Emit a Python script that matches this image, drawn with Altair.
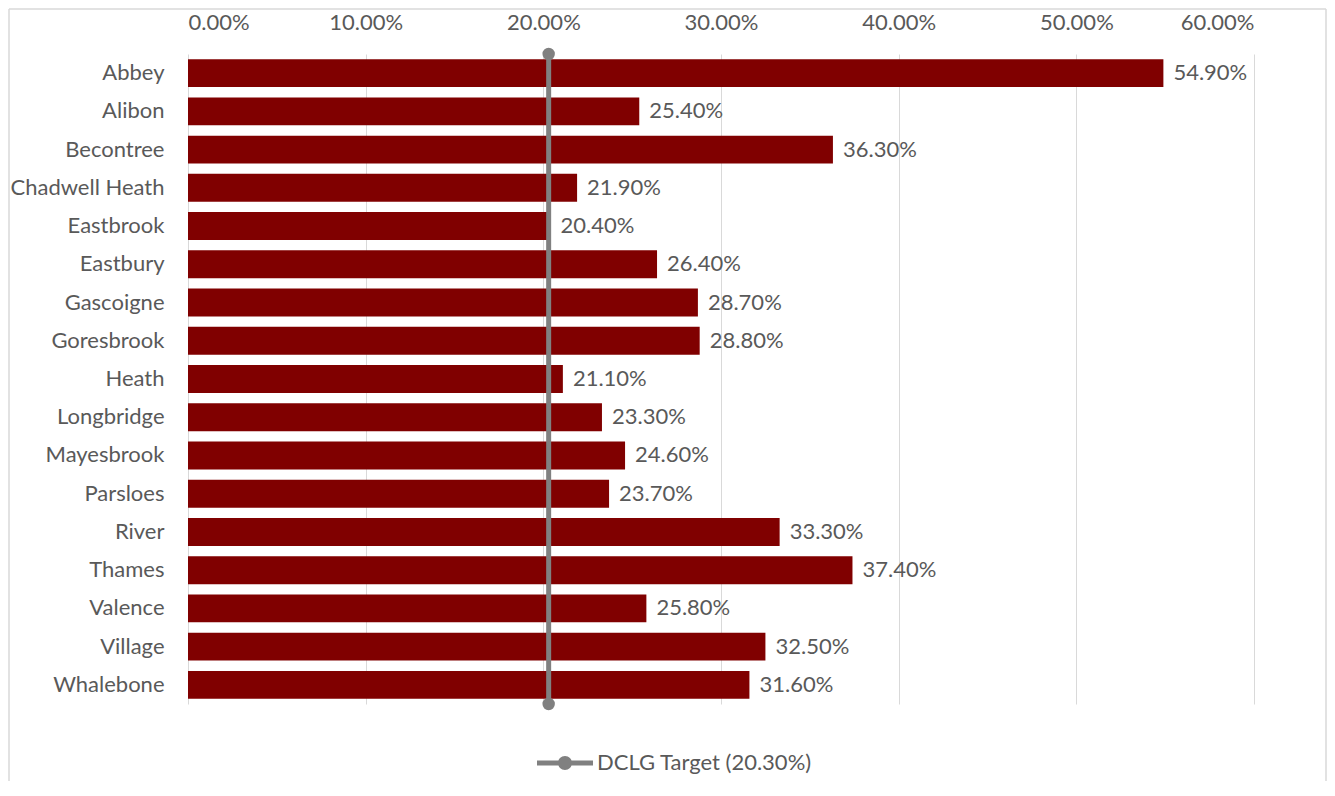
import altair as alt
import pandas as pd

wards = ["Abbey", "Alibon", "Becontree", "Chadwell Heath", "Eastbrook", "Eastbury",
         "Gascoigne", "Goresbrook", "Heath", "Longbridge", "Mayesbrook", "Parsloes",
         "River", "Thames", "Valence", "Village", "Whalebone"]
rates = [54.9, 25.4, 36.3, 21.9, 20.4, 26.4, 28.7, 28.8, 21.1, 23.3, 24.6, 23.7,
         33.3, 37.4, 25.8, 32.5, 31.6]
target_name = "DCLG Target (20.30%)"
target_value = 20.3
x_ticks = [0, 10, 20, 30, 40, 50, 60]

FONT = "Lato"
TXT = "#595959"
GRID = "#d9d9d9"
W, H = 1066, 650

df = pd.DataFrame({"ward": wards, "frac": [r / 100 for r in rates]})
tdf = pd.DataFrame({"frac": [target_value / 100, target_value / 100],
                    "pos": [0, 1],
                    "series": [target_name, target_name]})
one = pd.DataFrame({"k": [0]})

xscale = alt.Scale(domain=[0, 0.6], nice=False)
yscale = alt.Scale(paddingInner=0.27, paddingOuter=0.135)
xaxis = alt.Axis(orient="top", values=[t / 100 for t in x_ticks], format=".2%",
                 grid=True, gridColor=GRID, gridWidth=1, ticks=False, domain=False,
                 labelPadding=20, title=None, labelFontSize=22, labelFont=FONT,
                 labelColor=TXT)
x_enc = alt.X("frac:Q", scale=xscale, axis=xaxis)
y_enc = alt.Y("ward:N", sort=wards, scale=yscale,
              axis=alt.Axis(title=None, ticks=False, domain=False, labelPadding=24,
                            labelFontSize=22, labelFont=FONT, labelColor=TXT))

bars = alt.Chart(df).mark_bar(color="#800000").encode(x=x_enc, y=y_enc)

labels = alt.Chart(df).mark_text(align="left", baseline="middle", dx=10, fontSize=22,
                                 font=FONT, color=TXT).encode(
    x=alt.X("frac:Q", scale=xscale, axis=xaxis),
    y=alt.Y("ward:N", sort=wards, scale=yscale, axis=None),
    text=alt.Text("frac:Q", format=".2%"))

ypos = alt.Y("pos:Q", scale=alt.Scale(domain=[0, 1], nice=False), axis=None)
tline = alt.Chart(tdf).mark_line(color="#808080", strokeWidth=5).encode(
    x=alt.X("frac:Q", scale=xscale, axis=xaxis), y=ypos)

legend_path = ("M-1,-0.09L1,-0.09L1,0.09L-1,0.09Z "
               "M0.25,0A0.25,0.25,0,1,1,-0.25,0A0.25,0.25,0,1,1,0.25,0Z")
tpts = alt.Chart(tdf).mark_point(filled=True, size=154, opacity=1, shape="circle").encode(
    x=alt.X("frac:Q", scale=xscale, axis=xaxis), y=ypos,
    color=alt.Color("series:N", scale=alt.Scale(range=["#808080"]),
                    legend=alt.Legend(title=None, orient="none", legendX=349, legendY=681,
                                      symbolType=legend_path, symbolSize=3136,
                                      symbolStrokeWidth=0, labelFontSize=22, labelFont=FONT,
                                      labelColor=TXT, labelOffset=4, labelLimit=0,
                                      direction="horizontal")))

fl, ft, fr, fb = -179, -45, 1138, 727
frame_left = alt.Chart(one).mark_rule(color=GRID, strokeWidth=1.5).encode(
    x=alt.value(fl), y=alt.value(ft), y2=alt.value(fb))
frame_top = alt.Chart(one).mark_rule(color=GRID, strokeWidth=1.5).encode(
    x=alt.value(fl), x2=alt.value(fr), y=alt.value(ft))
frame_right = alt.Chart(one).mark_rule(color=GRID, strokeWidth=1.5).encode(
    x=alt.value(fr), y=alt.value(ft), y2=alt.value(fb))

chart = alt.layer(bars, labels, tline, tpts, frame_left, frame_top, frame_right).resolve_scale(
    y="independent"
).properties(width=W, height=H, padding=0, background="white").configure_view(stroke=None)

chart.save("out.html", embed_options={"renderer": "svg", "actions": False})
